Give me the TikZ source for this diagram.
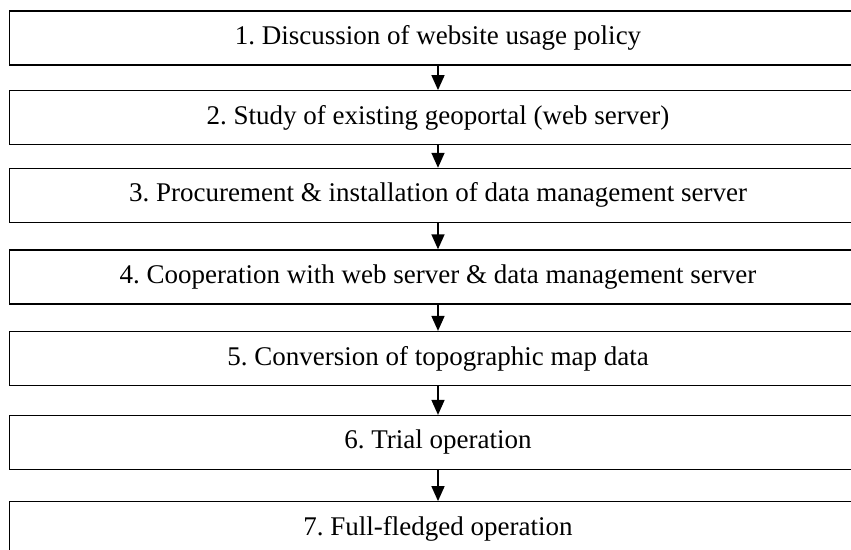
\documentclass[tikz,border=0pt]{standalone}
\usepackage{fontspec}
\setmainfont{Liberation Serif}
\usetikzlibrary{arrows.meta}

\begin{document}
\begin{tikzpicture}[x=1pt,y=-1pt,
    stage/.style={draw,line width=1.2pt,minimum width=857pt,minimum height=54pt,inner sep=0pt,font=\fontsize{27}{31}\selectfont\frenchspacing},
    flow/.style={-{Triangle[width=13pt,length=15pt]},line width=1.6pt}]
    \useasboundingbox (0,0) rectangle (851,549);
    \node[stage] (s1) at (438,38)    {1. Discussion of website usage policy};
    \node[stage] (s2) at (438,117.7) {2. Study of existing geoportal (web server)};
    \node[stage] (s3) at (438,195.4) {3. Procurement \& installation of data management server};
    \node[stage] (s4) at (438,276.9) {4. Cooperation with web server \& data management server};
    \node[stage] (s5) at (438,358.5) {5. Conversion of topographic map data};
    \node[stage] (s6) at (438,442.5) {6. Trial operation};
    \node[stage] (s7) at (438,528.7) {7. Full-fledged operation};
    \foreach \a/\b in {s1/s2,s2/s3,s3/s4,s4/s5,s5/s6,s6/s7}
        \draw[flow] (\a) -- (\b);
\end{tikzpicture}
\end{document}
